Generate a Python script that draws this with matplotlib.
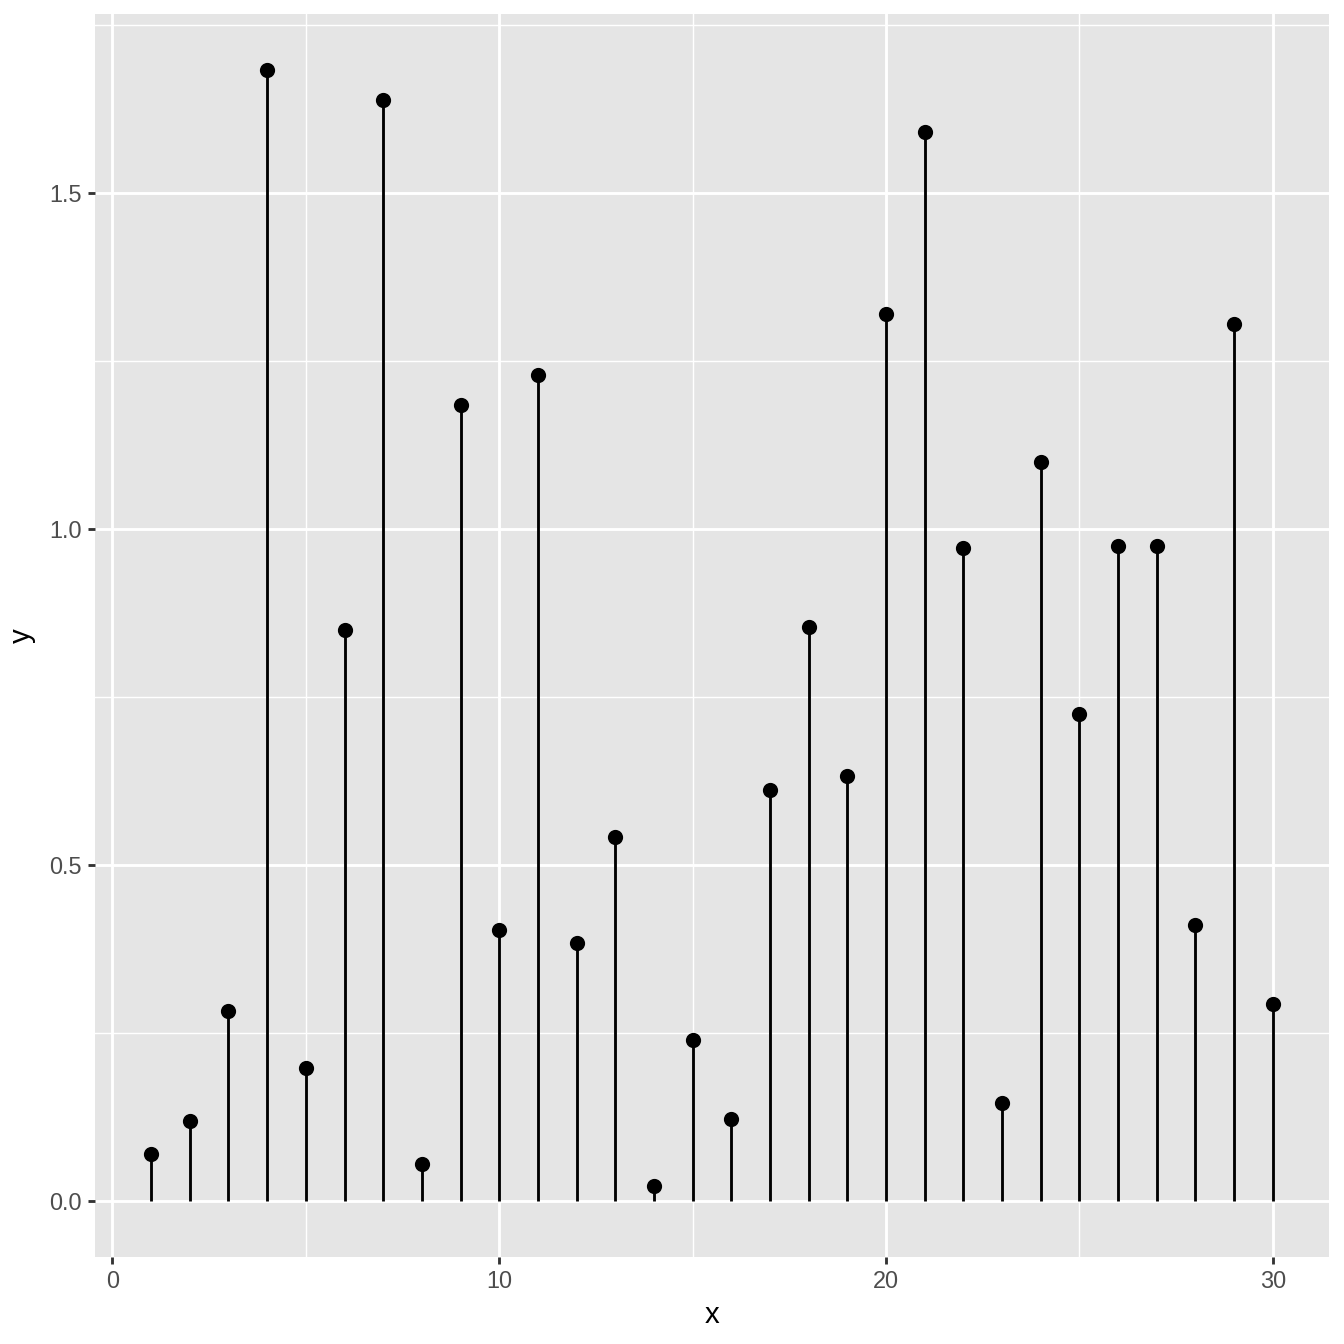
import numpy as np
import matplotlib
matplotlib.use('Agg')
import matplotlib.pyplot as plt
from matplotlib.ticker import MultipleLocator

# values
x = list(range(1, 31))
y = [0.070, 0.118, 0.282, 1.683, 0.198, 0.850, 1.639, 0.054, 1.185, 0.403,
     1.229, 0.383, 0.541, 0.022, 0.239, 0.122, 0.611, 0.854, 0.632, 1.320,
     1.592, 0.972, 0.146, 1.100, 0.725, 0.975, 0.975, 0.410, 1.305, 0.292]

x_ticks = [0, 10, 20, 30]
y_ticks = [0.0, 0.5, 1.0, 1.5]
y_tick_labels = ['0.0', '0.5', '1.0', '1.5']

plt.rcParams['font.family'] = ['Liberation Sans', 'DejaVu Sans']


def plot_lollipop(x, y):
    fig = plt.figure(figsize=(7, 7), dpi=192)
    ax = fig.add_axes([0.0707, 0.0647, 0.9181, 0.9249])
    ax.set_facecolor('#E5E5E5')
    for s in ax.spines.values():
        s.set_visible(False)

    # grid, ggplot style
    ax.xaxis.set_minor_locator(MultipleLocator(5))
    ax.yaxis.set_minor_locator(MultipleLocator(0.25))
    ax.grid(which='major', color='white', linewidth=1.07)
    ax.grid(which='minor', color='white', linewidth=0.53)
    ax.set_axisbelow(True)

    ax.vlines(x, 0, y, color='black', linewidth=1.07)
    ax.plot(x, y, 'o', color='black', markersize=4.7)

    # x data range expanded by 5%
    xr = max(x) - min(x)
    ax.set_xlim(min(x) - 0.05 * xr, max(x) + 0.05 * xr)
    ymax = max(y)
    ax.set_ylim(-0.05 * ymax, ymax * 1.05)

    ax.set_xticks(x_ticks)
    ax.set_yticks(y_ticks)
    ax.set_yticklabels(y_tick_labels)
    ax.tick_params(which='major', length=2.75, width=1.07, color='#333333',
                   labelcolor='#4D4D4D', labelsize=8.8, pad=2.2)
    ax.tick_params(which='minor', length=0)
    ax.set_xlabel('x', fontsize=11, labelpad=3)
    ax.set_ylabel('y', fontsize=11, labelpad=5)
    return fig


if __name__ == '__main__':
    fig = plot_lollipop(x, y)
    fig.savefig('out.png', dpi=192)
